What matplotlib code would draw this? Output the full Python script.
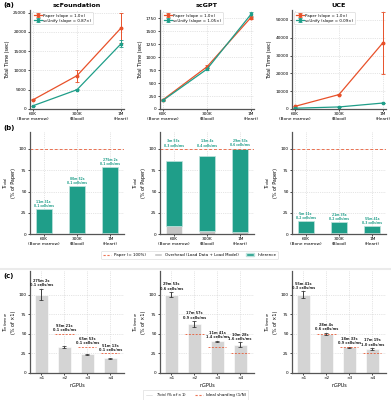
import matplotlib
matplotlib.use("Agg")
import matplotlib.pyplot as plt
from matplotlib.lines import Line2D
from matplotlib.patches import Patch
import numpy as np

# ---------------- data ----------------
models = ["scFoundation", "scGPT", "UCE"]
datasets = ["60K\n(Bone marrow)", "300K\n(Blood)", "1M\n(Heart)"]

paper_time = {"scFoundation": [2400, 8650, 21000],
              "scGPT": [180, 815, 1765],
              "UCE": [1500, 8100, 37200]}
paper_err = {"scFoundation": [150, 1550, 3900],
             "scGPT": [10, 25, 25],
             "UCE": [150, 300, 17300]}
unify_time = {"scFoundation": [850, 5000, 16900],
              "scGPT": [168, 770, 1825],
              "UCE": [450, 1150, 3350]}
unify_err = {"scFoundation": [50, 150, 900],
             "scGPT": [8, 15, 55],
             "UCE": [30, 60, 120]}
slopes = {"scFoundation": "0.87×", "scGPT": "1.05×", "UCE": "0.09×"}
a_yticks = {"scFoundation": [0, 5000, 10000, 15000, 20000, 25000],
            "scGPT": [0, 250, 500, 750, 1000, 1250, 1500, 1750],
            "UCE": [0, 10000, 20000, 30000, 40000, 50000]}
a_ylim = {"scFoundation": 25700, "scGPT": 1910, "UCE": 55600}

total_pct = {"scFoundation": [29, 56, 78.5],
             "scGPT": [86, 91.5, 100.5],
             "UCE": [15, 14, 9]}
overhead_pct = {"scFoundation": [1.5, 1.5, 1.5],
                "scGPT": [9, 4, 2],
                "UCE": [1.2, 1.0, 0.8]}
b_labels = {"scFoundation": ["11m 31s\n0.1 cells/ms", "80m 52s\n0.1 cells/ms", "275m 2s\n0.1 cells/ms"],
            "scGPT": ["3m 53s\n0.3 cells/ms", "13m 4s\n0.4 cells/ms", "29m 53s\n0.6 cells/ms"],
            "UCE": ["5m 11s\n0.2 cells/ms", "21m 35s\n0.2 cells/ms", "55m 41s\n0.3 cells/ms"]}

gpus = ["×1", "×2", "×3", "×4"]
gpu_n = [1, 2, 3, 4]
inf_pct = {"scFoundation": [100, 33.5, 24, 18.5],
           "scGPT": [100, 62, 40.3, 36],
           "UCE": [100, 50, 33, 30.5]}
inf_err = {"scFoundation": [7, 1.5, 0.5, 0.5],
           "scGPT": [3, 4, 1, 3],
           "UCE": [4, 1, 0.5, 1]}
c_labels = {"scFoundation": ["275m 2s\n0.1 cells/ms", "93m 21s\n0.1 cells/ms", "65m 53s\n0.1 cells/ms", "51m 13s\n0.1 cells/ms"],
            "scGPT": ["29m 53s\n0.6 cells/ms", "17m 57s\n0.9 cells/ms", "11m 41s\n1.4 cells/ms", "10m 28s\n1.6 cells/ms"],
            "UCE": ["55m 41s\n0.3 cells/ms", "28m 4s\n0.6 cells/ms", "18m 33s\n0.9 cells/ms", "17m 19s\n1.0 cells/ms"]}

# ---------------- style ----------------
RED = "#E8512A"
TEAL = "#1F9E89"
GRAY = "#C4C4C4"
LGRAY = "#D4D4D4"
TXT = 3.1
LAB = 3.5
plt.rcParams["font.family"] = ["DejaVu Sans"]

fig = plt.figure(figsize=(3.91, 4.0), dpi=100)
W, H = 391.0, 400.0
lefts = [30, 160, 292]
width = 94

def add_ax(left, top, bottom):
    return fig.add_axes([left / W, 1 - bottom / H, width / W, (bottom - top) / H])

def style(ax):
    for s in ["top", "right"]:
        ax.spines[s].set_visible(False)
    for s in ["left", "bottom"]:
        ax.spines[s].set_linewidth(0.9)
        ax.spines[s].set_color("#555555")
    ax.grid(True, linestyle=":", color="#CCCCCC", linewidth=0.5)
    ax.set_axisbelow(True)
    ax.tick_params(labelsize=TXT, length=1.5, width=0.5, pad=1)

# ---------------- row a ----------------
for i, m in enumerate(models):
    ax = add_ax(lefts[i], 10, 109)
    style(ax)
    x = np.arange(len(datasets))
    ax.errorbar(x, paper_time[m], yerr=paper_err[m], color=RED, marker="o", ms=1.8,
                lw=0.9, capsize=1.5, elinewidth=0.7, capthick=0.6,
                label="Paper (slope = 1.0×)")
    ax.errorbar(x, unify_time[m], yerr=unify_err[m], color=TEAL, marker="s", ms=1.8,
                lw=0.9, capsize=1.5, elinewidth=0.7, capthick=0.6,
                label=f"scUnify (slope = {slopes[m]})")
    ax.set_xticks(x)
    ax.set_xticklabels(datasets)
    ax.set_xlim(-0.07, 2.07)
    ax.set_yticks(a_yticks[m])
    ax.set_ylim(0, a_ylim[m])
    ax.set_ylabel("Total Time (sec)", fontsize=LAB, labelpad=2)
    ax.set_title(m, fontsize=4.6, fontweight="bold", pad=2)
    ax.legend(loc="upper left", fontsize=2.9, frameon=True, framealpha=0.9,
              edgecolor="#CCCCCC", borderpad=0.4, handlelength=2.0,
              handletextpad=0.4, labelspacing=0.3).get_frame().set_linewidth(0.4)

# ---------------- row b ----------------
for i, m in enumerate(models):
    ax = add_ax(lefts[i], 132, 234)
    style(ax)
    x = np.arange(len(datasets))
    tot = np.array(total_pct[m])
    ovh = np.array(overhead_pct[m])
    ax.bar(x, ovh, width=0.48, color=GRAY, edgecolor="white", linewidth=0.4)
    ax.bar(x, tot - ovh, bottom=ovh, width=0.48, color=TEAL, edgecolor="#BFE3DD", linewidth=0.5)
    ax.axhline(100, color=RED, ls="--", lw=0.7, alpha=0.8, dashes=(3, 2))
    for xi, t, lab in zip(x, tot, b_labels[m]):
        y = max(t, 100) if t > 82 else t
        ax.text(xi, y + 1.5, lab, ha="center", va="bottom", fontsize=2.2,
                color=TEAL, fontweight="bold", linespacing=1.1)
    ax.set_xticks(x)
    ax.set_xticklabels(datasets)
    ax.set_xlim(-0.41, 2.41)
    ax.set_ylim(0, 120)
    ax.set_yticks([0, 25, 50, 75, 100])
    ax.set_ylabel("$T_{total}$\n(% of Paper)", fontsize=LAB, labelpad=2)

fig.legend(handles=[Line2D([], [], color=RED, ls="--", lw=0.8, dashes=(2, 1.5), alpha=0.8),
                    Patch(facecolor=GRAY, edgecolor="white"),
                    Patch(facecolor=TEAL, edgecolor="#BFE3DD")],
           labels=["Paper (= 100%)", "Overhead (Load Data + Load Model)", "Inference"],
           loc="center", bbox_to_anchor=(0.485, 1 - 255 / H), ncol=3, fontsize=2.9,
           frameon=True, edgecolor="#CCCCCC", handlelength=2.0, handleheight=0.5,
           columnspacing=1.8, borderpad=0.4).get_frame().set_linewidth(0.4)

fig.add_artist(Line2D([0, 1], [1 - 269 / H, 1 - 269 / H], transform=fig.transFigure,
                      color="#EBEBEB", lw=1.5))

# ---------------- row c ----------------
for i, m in enumerate(models):
    ax = add_ax(lefts[i], 271, 373)
    style(ax)
    x = np.arange(len(gpus))
    vals = np.array(inf_pct[m])
    errs = np.array(inf_err[m])
    ax.bar(x, vals, width=0.55, color=LGRAY, edgecolor="white", linewidth=0.4)
    ax.errorbar(x, vals, yerr=errs, fmt="none", ecolor="#222222", elinewidth=0.6,
                capsize=1.5, capthick=0.5)
    for xi, n in zip(x[1:], gpu_n[1:]):
        ax.plot([xi - 0.4, xi + 0.4], [100 / n, 100 / n], color=RED, ls="--",
                lw=0.7, dashes=(2, 1.5), alpha=0.8)
    for xi, n, v, e, lab in zip(x, gpu_n, vals, errs, c_labels[m]):
        y = max(v + e, 100 / n)
        ax.text(xi, y + 2, lab, ha="center", va="bottom", fontsize=2.5,
                color="#222222", fontweight="bold", linespacing=1.1)
    ax.set_xticks(x)
    ax.set_xticklabels(gpus)
    ax.set_xlim(-0.5, 3.6)
    ax.set_ylim(0, 130)
    ax.set_yticks([0, 25, 50, 75, 100])
    ax.set_xlabel("nGPUs", fontsize=LAB, labelpad=1.5)
    ax.set_ylabel("$T_{inference}$\n(% of ×1)", fontsize=LAB, labelpad=2)

fig.legend(handles=[Patch(facecolor=LGRAY, edgecolor="white"),
                    Line2D([], [], color=RED, ls="--", lw=0.8, dashes=(2, 1.5), alpha=0.8)],
           labels=["$T_{total}$ (% of ×1)", "Ideal sharding (1/N)"],
           loc="center", bbox_to_anchor=(0.5, 1 - 395 / H), ncol=2, fontsize=2.9,
           frameon=True, edgecolor="#CCCCCC", handlelength=2.0, handleheight=0.5,
           columnspacing=1.8, borderpad=0.4).get_frame().set_linewidth(0.4)

# panel letters
for lab, ypx in [("(a)", 5), ("(b)", 128), ("(c)", 276)]:
    fig.text(3 / W, 1 - ypx / H, lab, fontsize=5.0, fontweight="bold", va="center", ha="left")

fig.savefig("out.png", dpi=100, facecolor="white")
